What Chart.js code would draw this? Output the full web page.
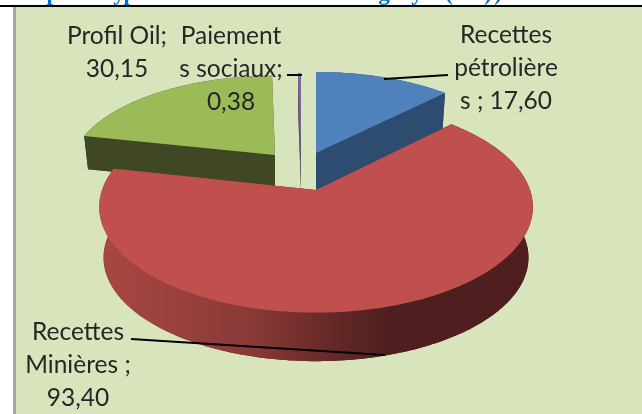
<!DOCTYPE html>
<html>
<head>
<meta charset="utf-8">
<script src="https://cdn.jsdelivr.net/npm/chart.js@4"></script>
<style>
  html, body { margin: 0; padding: 0; background: #fff; overflow: hidden; }
  #box { position: relative; width: 642px; height: 414px; }
  canvas { position: absolute; left: 0; top: 0; filter: blur(0.5px); }
</style>
</head>
<body>
<div id="box"><canvas id="pie" width="642" height="414"></canvas></div>
<script>
const categories = ['Recettes pétrolières', 'Recettes Minières', 'Profil Oil', 'Paiements sociaux'];
const values = [17.60, 93.40, 30.15, 0.38];
const labelLines = [
    ['Recettes', 'pétrolière', 's ; 17,60'],
    ['Recettes', 'Minières ;', '93,40'],
    ['Profil Oil;', '30,15'],
    ['Paiement', 's sociaux;', '0,38']
];

// how each slice is placed on the tilted disk, apex in pixels
const sliceStyle = [
    {x: 316, y: 153, a: 204, b: 94, depth: 37, top: '#4f81bd', wall: '#2e4b70'},
    {x: 316, y: 190, a: 214, b: 103, depth: 51, top: '#c0504d', wall: null},
    {x: 275, y: 155, a: 202, b: 92, depth: 33, top: '#9bbb59', wall: '#404724'},
    {x: 301, y: 155, a: 203, b: 95, depth: 35, top: '#8064a2', wall: '#5b5a63'}
];
const labelStyle = [
    {x: 506, y: 35}, {x: 78, y: 332}, {x: 117, y: 36}, {x: 231, y: 36}
];
const leaders = [
    [[384, 79], [448, 75]],
    [[131, 339], [385, 355]],
    [[287, 75], [302, 75]]
];
const titleBits = [['p', 53], ['y', 119], ['p', 130], ['g', 384], ['y', 417], ['(', 449], [')', 488], [')', 498]];
const perspective = 0.16;

function project(s, angle, scale, drop) {
    // angle is clockwise from the top of the disk
    const u = Math.sin(angle), v = -Math.cos(angle);
    const w = 1 - perspective * v;
    return [s.x + scale * s.a * u / w, s.y + drop + scale * s.b * v / w];
}

function arcPoints(s, from, to, scale, drop) {
    const pts = [];
    const n = Math.max(2, Math.ceil((to - from) * 60));
    for (let i = 0; i <= n; i++) pts.push(project(s, from + (to - from) * i / n, scale, drop));
    return pts;
}

function fillPoly(ctx, pts, fill) {
    ctx.beginPath();
    pts.forEach((p, i) => i ? ctx.lineTo(p[0], p[1]) : ctx.moveTo(p[0], p[1]));
    ctx.closePath();
    ctx.fillStyle = fill;
    ctx.fill();
}

function drawSlice(ctx, s, from, to) {
    const topEdge = arcPoints(s, from, to, 1, 0);
    const lowEdge = arcPoints(s, from, to, 0.98, s.depth);
    let wall = s.wall;
    if (!wall) {
        wall = ctx.createLinearGradient(100, 0, 390, 0);
        wall.addColorStop(0, '#a84744');
        wall.addColorStop(0.52, '#8a3a37');
        wall.addColorStop(0.76, '#6a2b29');
        wall.addColorStop(1, '#4e1f1e');
    }
    const apex = [s.x, s.y], lowApex = [s.x, s.y + s.depth];
    fillPoly(ctx, [lowApex].concat(lowEdge), wall);
    fillPoly(ctx, topEdge.concat(lowEdge.slice().reverse()), wall);
    fillPoly(ctx, [apex, topEdge[0], lowEdge[0], lowApex], wall);
    fillPoly(ctx, [apex, topEdge[topEdge.length - 1], lowEdge[lowEdge.length - 1], lowApex], wall);
    fillPoly(ctx, [apex].concat(topEdge), s.top);
}

const tiltedPie = {
    id: 'tiltedPie',
    beforeDraw(chart) {
        const ctx = chart.ctx;
        ctx.save();
        ctx.fillStyle = '#d8e4bc';
        ctx.fillRect(14, 7, 628, 407);
        ctx.fillStyle = '#a6a6a6';
        ctx.fillRect(13, 7, 3, 407);
        ctx.fillStyle = '#0070c0';
        ctx.font = 'bold 23px "Liberation Serif"';
        ctx.textAlign = 'center';
        titleBits.forEach(b => ctx.fillText(b[0], b[1], 0));
        ctx.fillStyle = '#000';
        ctx.fillRect(0, 5, 642, 2);
        ctx.restore();
    },
    beforeDatasetDraw(chart) {
        const ctx = chart.ctx;
        const arcs = chart.getDatasetMeta(0).data;
        // back slices first, the big red one sits in front of them
        [2, 3, 0, 1].forEach(i => {
            const from = arcs[i].startAngle + Math.PI / 2;
            const to = arcs[i].endAngle + Math.PI / 2;
            drawSlice(ctx, sliceStyle[i], from, to);
        });
        return false;
    },
    afterDatasetsDraw(chart) {
        const ctx = chart.ctx;
        ctx.save();
        ctx.strokeStyle = '#000';
        ctx.lineWidth = 2;
        leaders.forEach(l => {
            ctx.beginPath();
            l.forEach((p, i) => i ? ctx.lineTo(p[0], p[1]) : ctx.moveTo(p[0], p[1]));
            ctx.stroke();
        });
        ctx.fillStyle = '#262626';
        ctx.font = '24.5px Lato';
        ctx.textAlign = 'center';
        ctx.textBaseline = 'middle';
        labelLines.forEach((lines, i) => {
            lines.forEach((t, k) => ctx.fillText(t, labelStyle[i].x, labelStyle[i].y + k * 33));
        });
        ctx.restore();
    }
};

new Chart(document.getElementById('pie'), {
    type: 'pie',
    data: {
        labels: categories,
        datasets: [{data: values, backgroundColor: sliceStyle.map(s => s.top)}]
    },
    options: {
        responsive: false,
        animation: false,
        plugins: {legend: {display: false}, title: {display: false}, tooltip: {enabled: false}}
    },
    plugins: [tiltedPie]
});
</script>
</body>
</html>
